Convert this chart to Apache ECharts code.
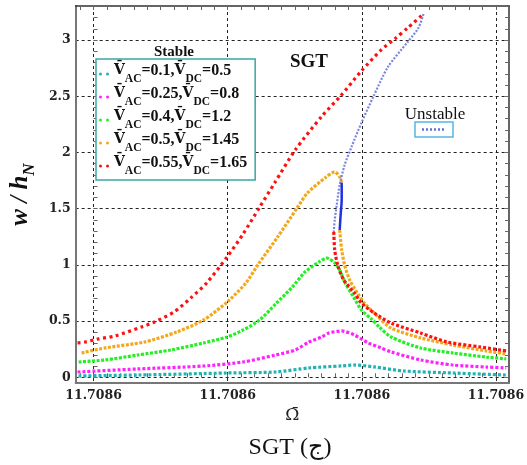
<!DOCTYPE html>
<html><head><meta charset="utf-8">
<script src="https://cdn.jsdelivr.net/npm/echarts@6/dist/echarts.min.js"></script>
<style>html,body{margin:0;padding:0;background:#fff}#c{width:527px;height:465px}</style>
</head><body><div id="c"></div>
<script>
// x expressed in tick units (tick k -> 11.7086 label), y = w/h_N
const X_TICKS = [0, 1, 2, 3];
const X_TICK_LABELS = ['11.7086', '11.7086', '11.7086', '11.7086'];
const Y_TICKS = [0, 0.5, 1, 1.5, 2, 2.5, 3];
const X_RANGE = [-0.134, 3.098];
const Y_RANGE = [-0.051, 3.303];
const VAC = [0.1, 0.25, 0.4, 0.5, 0.55];
const VDC = [0.5, 0.8, 1.2, 1.45, 1.65];
const COLORS = ['#22b2b2', '#ff22ff', '#22f022', '#f2a81c', '#ff1010'];

const teal = [[-0.112,0.012],[0.328,0.020],[0.997,0.038],[1.357,0.047],[1.606,0.083],[1.850,0.101],[1.945,0.109],[2.092,0.092],[2.311,0.056],[2.680,0.038],[3.077,0.020]];
const magenta = [[-0.120,0.047],[0.328,0.074],[0.820,0.100],[1.115,0.136],[1.357,0.198],[1.504,0.243],[1.606,0.314],[1.702,0.359],[1.754,0.394],[1.850,0.412],[1.945,0.376],[2.048,0.305],[2.144,0.261],[2.217,0.226],[2.438,0.154],[2.680,0.109],[2.930,0.091],[3.077,0.083]];
const green = [[-0.112,0.136],[0.086,0.154],[0.328,0.198],[0.578,0.243],[0.820,0.305],[0.997,0.359],[1.115,0.421],[1.239,0.510],[1.357,0.652],[1.482,0.803],[1.577,0.937],[1.681,1.026],[1.740,1.061],[1.798,1.017],[1.835,0.955],[1.872,0.848],[1.938,0.715],[1.997,0.599],[2.071,0.519],[2.130,0.448],[2.217,0.359],[2.438,0.261],[2.680,0.216],[2.930,0.180],[3.077,0.163]];
const orangeUp = [[-0.090,0.216],[0.086,0.261],[0.380,0.314],[0.622,0.403],[0.820,0.510],[0.997,0.670],[1.136,0.839],[1.225,1.000],[1.371,1.246],[1.518,1.507],[1.594,1.639],[1.725,1.773],[1.798,1.827],[1.835,1.783],[1.850,1.730]];
const orangeLow = [[1.835,1.310],[1.850,1.132],[1.872,0.999],[1.909,0.866],[1.967,0.750],[2.019,0.661],[2.107,0.554],[2.217,0.439],[2.438,0.350],[2.680,0.287],[2.930,0.234],[3.077,0.207]];
const orangeUnstable = [[1.850,1.730],[1.850,1.577],[1.842,1.444],[1.835,1.310]];
const redUp = [[-0.120,0.305],[-0.061,0.314],[0.035,0.341],[0.159,0.367],[0.358,0.448],[0.454,0.492],[0.600,0.581],[0.725,0.706],[0.843,0.839],[0.997,1.073],[1.115,1.275],[1.239,1.515],[1.350,1.729],[1.504,2.023],[1.703,2.324],[1.842,2.503],[1.997,2.725],[2.144,2.912],[2.254,3.019],[2.342,3.108],[2.460,3.232]];
const redLow = [[1.791,1.292],[1.798,1.132],[1.820,0.999],[1.865,0.866],[1.945,0.750],[1.997,0.661],[2.092,0.572],[2.217,0.483],[2.438,0.394],[2.636,0.314],[2.879,0.270],[3.077,0.234]];
const redUnstable = [[2.460,3.232],[2.422,3.107],[2.342,2.983],[2.195,2.761],[2.085,2.494],[1.997,2.263],[1.923,2.049],[1.872,1.889],[1.835,1.711],[1.813,1.532],[1.798,1.399],[1.791,1.292]];

const NAMES = VAC.map((a, i) => 'V\u0304AC=' + a + ',V\u0304DC=' + VDC[i]);

function minorList(lo, hi, step) {
  const out = [];
  for (let k = Math.ceil(lo / step - 1e-9); k * step <= hi + 1e-9; k++) out.push(+(k * step).toFixed(6));
  return out;
}
const X_MINOR = minorList(X_RANGE[0], X_RANGE[1], 0.1);
const Y_MINOR = minorList(Y_RANGE[0], Y_RANGE[1], 0.1);

const SERIF = 'Liberation Serif';
const tickLabel = { fontFamily: 'DejaVu Serif', fontWeight: 'bold', fontSize: 12.5, color: '#222' };
const gridLine = { show: true, lineStyle: { color: '#222', type: [3, 3], width: 1 } };

function stable(name, data, color, dash, z) {
  return { type: 'line', name, data, xAxisIndex: 0, yAxisIndex: 0, showSymbol: false, symbol: 'none',
    smooth: 0.25, color, itemStyle: { color }, z: z,
    lineStyle: { color, width: 3.2, type: dash }, emphasis: { disabled: true }, silent: true };
}

const chart = echarts.init(document.getElementById('c'));
chart.setOption({
  animation: false,
  backgroundColor: '#fff',
  grid: { left: 70, right: 17, top: 6, bottom: 82, containLabel: false },
  xAxis: [
    { type: 'value', min: X_RANGE[0], max: X_RANGE[1], position: 'bottom',
      name: '\u03A9\u0304', nameLocation: 'middle', nameGap: 24,
      nameTextStyle: { fontFamily: 'DejaVu Serif', fontSize: 17, color: '#222' },
      axisLine: { show: true, onZero: false, lineStyle: { color: '#777', width: 2 } },
      axisTick: { show: false, customValues: X_TICKS },
      axisLabel: Object.assign({ customValues: X_TICKS, margin: 6,
        formatter: v => { const i = X_TICKS.indexOf(v); return i >= 0 ? X_TICK_LABELS[i] : ''; } }, tickLabel),
      splitLine: gridLine },
    { type: 'value', min: X_RANGE[0], max: X_RANGE[1], position: 'bottom',
      axisLine: { show: false }, axisLabel: { show: false }, splitLine: { show: false },
      axisTick: { show: true, inside: true, length: 4, customValues: X_MINOR, lineStyle: { color: '#666' } } },
    { type: 'value', min: X_RANGE[0], max: X_RANGE[1], position: 'top',
      axisLine: { show: true, onZero: false, lineStyle: { color: '#333', width: 1.5 } }, axisLabel: { show: false }, splitLine: { show: false },
      axisTick: { show: true, inside: true, length: 4, customValues: X_MINOR, lineStyle: { color: '#666' } } }
  ],
  yAxis: [
    { type: 'value', min: Y_RANGE[0], max: Y_RANGE[1], position: 'left',
      name: '{i|w / h}{n|N}', nameLocation: 'middle', nameGap: 30, nameRotate: 90,
      nameTextStyle: { rich: {
        i: { fontFamily: SERIF, fontStyle: 'italic', fontWeight: 'bold', fontSize: 25, lineHeight: 30, verticalAlign: 'top', color: '#111' },
        n: { fontFamily: SERIF, fontStyle: 'italic', fontWeight: 'bold', fontSize: 17, lineHeight: 17, verticalAlign: 'bottom', color: '#111' } } },
      axisLine: { show: true, onZero: false, lineStyle: { color: '#777', width: 2 } },
      axisTick: { show: false, customValues: Y_TICKS },
      axisLabel: Object.assign({ customValues: Y_TICKS, margin: 5 }, tickLabel),
      splitLine: gridLine },
    { type: 'value', min: Y_RANGE[0], max: Y_RANGE[1], position: 'left',
      axisLine: { show: false }, axisLabel: { show: false }, splitLine: { show: false },
      axisTick: { show: true, inside: true, length: 4, customValues: Y_MINOR, lineStyle: { color: '#666' } } },
    { type: 'value', min: Y_RANGE[0], max: Y_RANGE[1], position: 'right',
      axisLine: { show: true, onZero: false, lineStyle: { color: '#333', width: 1.5 } }, axisLabel: { show: false }, splitLine: { show: false },
      axisTick: { show: true, inside: true, length: 4, customValues: Y_MINOR, lineStyle: { color: '#666' } } }
  ],
  legend: {
    data: NAMES, orient: 'vertical', left: 96, top: 59, padding: [4, 8, 3, 3], itemGap: 1,
    itemWidth: 10, itemHeight: 3, selectedMode: false,
    icon: 'path://M0,1.5a1.5,1.5 0 1,0 3,0a1.5,1.5 0 1,0 -3,0M7,1.5a1.5,1.5 0 1,0 3,0a1.5,1.5 0 1,0 -3,0',
    borderColor: '#3aa6a0', borderWidth: 1.5, backgroundColor: '#fff',
    formatter: name => {
      const i = NAMES.indexOf(name);
      return '{b|V\u0304}{s|AC}{v|=' + VAC[i] + ',}{b|V\u0304}{s|DC}{v|=' + VDC[i] + '}';
    },
    textStyle: { fontFamily: SERIF, fontWeight: 'bold', color: '#111', rich: {
      b: { fontFamily: 'DejaVu Serif', fontWeight: 'bold', fontSize: 14, lineHeight: 22, verticalAlign: 'top', color: '#111' },
      v: { fontFamily: SERIF, fontWeight: 'bold', fontSize: 16, lineHeight: 22, verticalAlign: 'top', color: '#111' },
      s: { fontFamily: SERIF, fontWeight: 'bold', fontSize: 11.5, lineHeight: 11, verticalAlign: 'bottom', color: '#111' } } }
  },
  graphic: [
    { type: 'text', x: 174, y: 52, style: { text: 'Stable', fontFamily: SERIF, fontWeight: 'bold', fontSize: 15, fill: '#111', align: 'center', verticalAlign: 'middle' } },
    { type: 'text', x: 309, y: 62, style: { text: 'SGT', fontFamily: SERIF, fontWeight: 'bold', fontSize: 19, fill: '#111', align: 'center', verticalAlign: 'middle' } },
    { type: 'text', x: 435, y: 115, style: { text: 'Unstable', fontFamily: SERIF, fontSize: 17, fill: '#111', align: 'center', verticalAlign: 'middle' } },
    { type: 'rect', shape: { x: 415, y: 122, width: 38, height: 15 }, style: { fill: 'none', stroke: '#55b5e5', lineWidth: 1.5 } },
    { type: 'line', shape: { x1: 422, y1: 129.5, x2: 446, y2: 129.5 }, style: { stroke: '#6070d8', lineWidth: 2.5, lineDash: [2, 2] } },
    { type: 'text', x: 290, y: 448, style: { text: 'SGT (\u062C)', fontFamily: SERIF + ', DejaVu Sans', fontSize: 24, fill: '#111', align: 'center', verticalAlign: 'middle' } }
  ],
  series: [
    stable(NAMES[0], teal, COLORS[0], [3, 2], 2),
    stable(NAMES[1], magenta, COLORS[1], [3, 2], 3),
    stable(NAMES[2], green, COLORS[2], [3, 1.5], 4),
    stable(NAMES[3], orangeUp, COLORS[3], [3, 1.5], 5),
    stable(NAMES[3], orangeLow, COLORS[3], [3, 1.5], 5),
    stable(NAMES[4], redUp, COLORS[4], [3, 3.5], 6),
    stable(NAMES[4], redLow, COLORS[4], [3, 2], 6),
    { type: 'line', name: 'Unstable', data: redUnstable, showSymbol: false, symbol: 'none', smooth: 0.25, z: 7, silent: true,
      color: '#7a88dc', lineStyle: { color: '#7a88dc', width: 2.2, type: [2, 1.5] } },
    { type: 'line', name: 'Unstable', data: orangeUnstable, showSymbol: false, symbol: 'none', smooth: 0.25, z: 7, silent: true,
      color: '#2030e0', lineStyle: { color: '#2030e0', width: 2.5 } }
  ]
});
</script></body></html>
